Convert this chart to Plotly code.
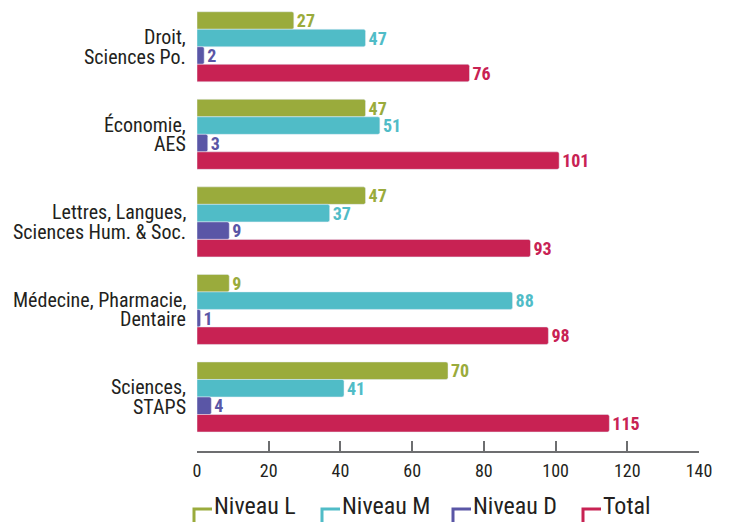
import plotly.graph_objects as go

categories = ["Droit,<br>Sciences Po.", "Économie,<br>AES", "Lettres, Langues,<br>Sciences Hum. & Soc.",
              "Médecine, Pharmacie,<br>Dentaire", "Sciences,<br>STAPS"]
niveau_l = [27, 47, 47, 9, 70]
niveau_m = [47, 51, 37, 88, 41]
niveau_d = [2, 3, 9, 1, 4]
total = [76, 101, 93, 98, 115]
series_names = ["Niveau L", "Niveau M", "Niveau D", "Total"]
colors = ["#9aab3c", "#50bcc7", "#5a56a6", "#c82253"]
x_ticks = [0, 20, 40, 60, 80, 100, 120, 140]

FONT = "Roboto Condensed, Arial Narrow, sans-serif"
TXT = "#231f20"
W, H = 729, 522
L, R, T, B = 197, 30, 3, 71  # plot area px

fig = go.Figure()
for name, vals, col in zip(series_names, [niveau_l, niveau_m, niveau_d, total], colors):
    fig.add_trace(go.Bar(
        y=categories, x=vals, name=name, orientation="h",
        marker=dict(color=col, cornerradius=2),
        text=[str(v) for v in vals], textposition="outside", constraintext="none",
        textfont=dict(color=col, size=18, family=FONT, weight="bold"),
        cliponaxis=False, showlegend=False,
    ))

fig.update_layout(
    width=W, height=H,
    margin=dict(l=L, r=R, t=T, b=B),
    barmode="group", bargap=0.2, bargroupgap=0,
    plot_bgcolor="white", paper_bgcolor="white",
    font=dict(family=FONT, color=TXT, size=18),
    xaxis=dict(range=[0, 140], tickvals=x_ticks, showgrid=False, zeroline=False,
               showline=True, linecolor="#6d6e70", linewidth=1.5,
               ticks="inside", ticklen=10, tickcolor="#6d6e70", tickwidth=1.5,
               tickfont=dict(size=18, color=TXT), ticklabelstandoff=3),
    yaxis=dict(range=[4.617, -0.5], showgrid=False, zeroline=False, showline=False,
               ticks="", showticklabels=False),
)

# category labels: two lines each, tight line spacing
for cat in categories:
    lines = cat.split("<br>")
    n = len(lines)
    for i, line in enumerate(lines):
        fig.add_annotation(x=0, xref="paper", y=cat, yref="y", text=line, showarrow=False,
                           xanchor="right", yanchor="middle", xshift=-10,
                           yshift=(n - 1) / 2 * 19.5 - i * 19.5, borderpad=0,
                           font=dict(size=20, color=TXT, family=FONT))

plot_w = W - L - R
plot_h = H - T - B
def px(xp):
    return (xp - L) / plot_w
def py(yp):
    return (H - B - yp) / plot_h

leg_x = [194, 322, 453, 583]
for name, col, xs in zip(series_names, colors, leg_x):
    fig.add_shape(type="path", xref="paper", yref="paper",
                  path=f"M {px(xs)},{py(524)} L {px(xs)},{py(509)} L {px(xs+18)},{py(509)}",
                  line=dict(color=col, width=3))
    fig.add_annotation(x=px(xs + 18), y=py(506), xref="paper", yref="paper",
                       text=name, showarrow=False, xanchor="left", yanchor="middle",
                       font=dict(size=24, color=TXT, family=FONT))

fig.write_html("out.html", config={"displayModeBar": False},
               post_script="document.body.style.margin='0';document.body.style.overflow='hidden';")
